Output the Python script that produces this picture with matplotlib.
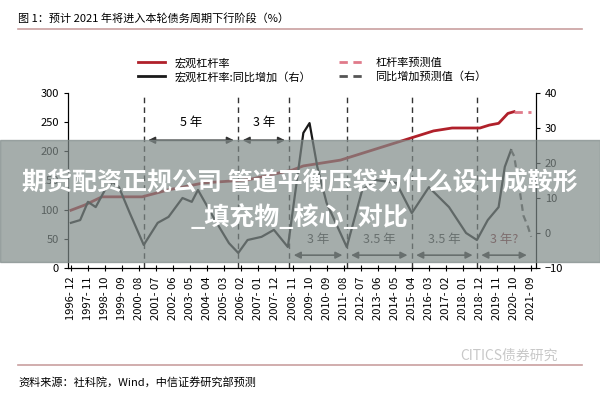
import matplotlib
matplotlib.use("Agg")
import matplotlib.pyplot as plt
from matplotlib.patches import Rectangle

plt.rcParams['font.family'] = ['Noto Sans CJK SC', 'DejaVu Sans']

lev_dates = ["1996-12","1997-09","1998-08","2000-10","2002-03","2004-02","2006-06","2008-11","2009-06",
             "2010-06","2011-06","2012-06","2013-06","2014-06","2015-06","2016-06","2017-06","2018-06",
             "2018-12","2019-06","2019-12","2020-06","2020-10"]
lev_vals = [99,108,122,122,134,146,151,168,175,180,185,195,205,215,225,235,240,240,240,245,248,265,268]
lev_fc_dates = ["2020-10","2021-09"]
lev_fc_vals = [268,268]

yoy_dates = ["1996-12","1997-06","1997-11","1998-04","1998-10","1999-03","1999-07","2000-02","2000-11",
             "2001-08","2002-03","2002-12","2003-06","2003-10","2004-09","2005-06","2005-12","2006-06",
             "2007-03","2007-11","2008-08","2009-06","2009-10","2010-03","2010-09","2011-10","2012-08",
             "2013-05","2014-06","2015-04","2016-03","2017-04","2018-03","2018-10","2019-05","2019-12",
             "2020-04","2020-08"]
yoy_vals = [2.9,3.7,8.9,7.4,12.3,14.6,13.1,5.7,-3.4,2.9,4.6,10,8.9,12.3,3.7,-2.9,-5.7,-2,-1.1,0.9,-4,
            28.6,31.4,18.9,8.6,-4,12.3,15.1,14.3,5.7,13.1,7.4,0,-2,3.7,7.4,18.9,23.7]
yoy_fc_dates = ["2020-08","2020-10","2021-01","2021-04","2021-07","2021-09"]
yoy_fc_vals = [23.7,22,14,5,1.7,-1.1]

cycle_lines = ["2000-11","2005-12","2008-09","2011-10","2015-04","2018-10"]
upper_spans = [("2000-11","2005-12","5 年"),("2005-12","2008-09","3 年")]
lower_spans = [("2008-09","2011-10","3 年"),("2011-10","2015-04","3.5 年"),
               ("2015-04","2018-10","3.5 年"),("2018-10","2021-09","3 年?")]

def m(s):
    y, mo = s.split("-")
    return (int(y)-1996)*12 + int(mo) - 12

tick_labels = []
t = 0
while t <= m("2021-09"):
    yy = 1996 + (t + 11)//12
    mm = (t + 11) % 12 + 1
    tick_labels.append(f"{yy}-{mm:02d}")
    t += 11

fig = plt.figure(figsize=(6,4), dpi=100)
ax = fig.add_axes([0.113, 0.33, 0.78, 0.4375])
ax2 = ax.twinx()

red = "#b0202a"
ax.plot([m(d) for d in lev_dates], lev_vals, color=red, lw=2, zorder=3)
ax.plot([m(d) for d in lev_fc_dates], lev_fc_vals, color="#e07a8a", lw=2, ls=(0,(3,2)), zorder=3)
ax2.plot([m(d) for d in yoy_dates], yoy_vals, color="#1a1a1a", lw=1.6)
ax2.plot([m(d) for d in yoy_fc_dates], yoy_fc_vals, color="#555555", lw=1.6, ls=(0,(3,2)))

ax.set_ylim(0, 300); ax.set_yticks(range(0, 301, 50))
ax2.set_ylim(-10, 40); ax2.set_yticks(range(-10, 41, 10))
ax.set_xlim(-2, m("2021-09")+3)
ax.set_xticks([m(s) for s in tick_labels])
ax.set_xticklabels([s.replace("-", "- ") for s in tick_labels], rotation=90, fontsize=8)
for a in (ax, ax2):
    a.spines['top'].set_visible(False)
    a.tick_params(labelsize=8, length=3)
ax.tick_params(axis='x', direction='inout', length=5)

for d in cycle_lines:
    ax.axvline(m(d), color="#333333", lw=1, ls=(0,(4,3)))
for a, b, lab in upper_spans:
    ax.annotate("", xy=(m(b)-1, 219), xytext=(m(a)+1, 219),
                arrowprops=dict(arrowstyle="<|-|>", color="#333333", lw=1.2, mutation_scale=10))
    ax.text((m(a)+m(b))/2, 250, lab, ha="center", va="center", fontsize=9)
for a, b, lab in lower_spans:
    c = "#7a2a30" if "?" in lab else "#333333"
    ax.annotate("", xy=(m(b)-1, 22), xytext=(m(a)+1, 22),
                arrowprops=dict(arrowstyle="<|-|>", color="#333333", lw=1.2, mutation_scale=10))
    ax.text((m(a)+m(b))/2, 48, lab, ha="center", va="center", fontsize=9, color=c)

h1, = ax.plot([], [], color=red, lw=2)
h2, = ax.plot([], [], color="#e07a8a", lw=2, ls=(0,(3,2)))
h3, = ax.plot([], [], color="#1a1a1a", lw=2)
h4, = ax.plot([], [], color="#555555", lw=2, ls=(0,(3,2)))
fig.legend([h1, h3, h2, h4], ["宏观杠杆率", "宏观杠杆率:同比增加（右）", "杠杆率预测值", "同比增加预测值（右）"],
           loc="center", bbox_to_anchor=(0.52, 0.825), ncol=2, frameon=False, fontsize=8,
           columnspacing=2.5, handlelength=2.5, labelspacing=0.3)

fig.text(0.03, 0.955, "图 1：预计 2021 年将进入本轮债务周期下行阶段（%）", fontsize=8, va="center")
fig.add_artist(plt.Line2D([0.03, 0.97], [0.928, 0.928], color="#c9a0a0", lw=1.2))
fig.add_artist(plt.Line2D([0.03, 0.97], [0.088, 0.088], color="#c9a0a0", lw=1.2))
fig.text(0.03, 0.045, "资料来源：社科院，Wind，中信证券研究部预测", fontsize=8, va="center")
fig.text(0.93, 0.11, "CITICS债券研究", fontsize=10, color="#c8c8c8", ha="right", va="center")

fig.add_artist(Rectangle((0, 0.345), 1, 0.305, transform=fig.transFigure, color="#7f8a88", alpha=0.7, zorder=10))
fig.text(0.5, 0.542, "期货配资正规公司 管道平衡压袋为什么设计成鞍形", fontsize=18, color="white",
         fontweight="bold", ha="center", va="center", zorder=11)
fig.text(0.318, 0.458, "_填充物_核心_对比", fontsize=18, color="white",
         fontweight="bold", ha="left", va="center", zorder=11)

fig.savefig("out.png", dpi=100)
